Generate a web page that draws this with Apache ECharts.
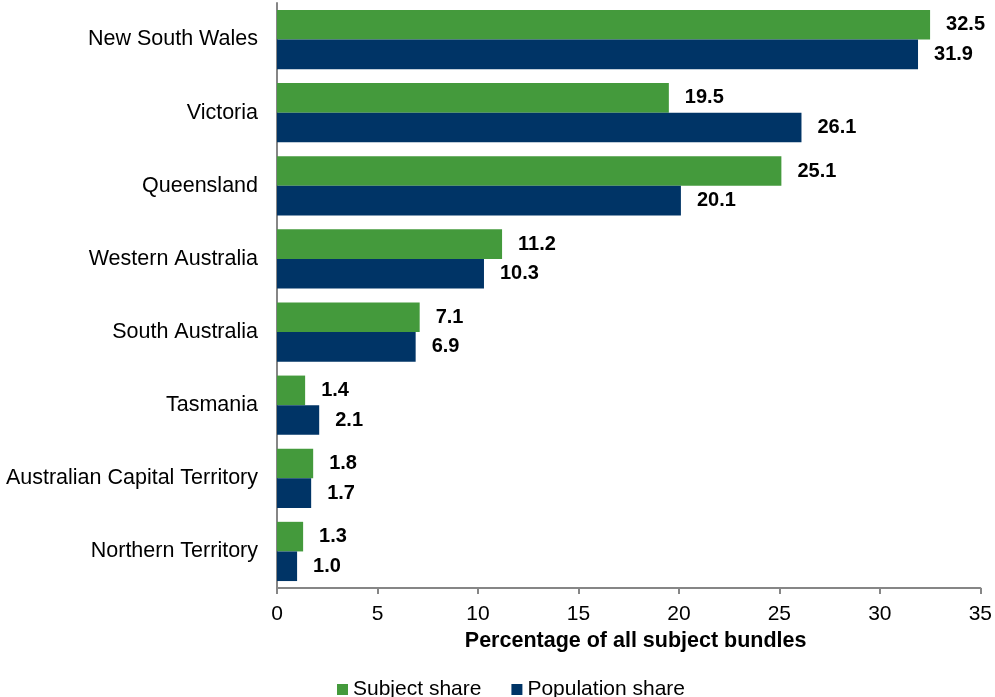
<!DOCTYPE html>
<html><head><meta charset="utf-8">
<script src="https://cdn.jsdelivr.net/npm/echarts@6/dist/echarts.min.js"></script>
<style>html,body{margin:0;padding:0;background:#fff}#c{width:995px;height:697px}</style>
</head><body><div id="c"></div>
<script>
const categories = ["New South Wales","Victoria","Queensland","Western Australia","South Australia","Tasmania","Australian Capital Territory","Northern Territory"];
const subjectShare = [32.5,19.5,25.1,11.2,7.1,1.4,1.8,1.3];
const populationShare = [31.9,26.1,20.1,10.3,6.9,2.1,1.7,1.0];
const seriesNames = ["Subject share","Population share"];
const xTicks = {min:0,max:35,interval:5};

const font = 'Liberation Sans, Arial, sans-serif';
const chart = echarts.init(document.getElementById('c'));
const lbl = {show:true,position:'right',distance:16,fontFamily:font,fontSize:20,fontWeight:'bold',color:'#000',formatter:p=>p.value.toFixed(1)};
chart.setOption({
  animation:false,
  grid:{left:277,right:12,top:3,bottom:109,containLabel:false},
  legend:{data:seriesNames,left:332,top:674,itemWidth:11,itemHeight:11,itemGap:30,icon:'rect',
    textStyle:{fontFamily:font,fontSize:21,color:'#000'}},
  xAxis:{type:'value',min:xTicks.min,max:xTicks.max,interval:xTicks.interval,
    name:'Percentage of all subject bundles',nameLocation:'middle',nameGap:42,
    nameTextStyle:{fontFamily:font,fontSize:21.5,fontWeight:'bold',color:'#000',padding:[0,0,0,14]},
    axisLine:{show:true,lineStyle:{color:'#868686',width:2}},
    axisTick:{show:true,length:6,lineStyle:{color:'#868686',width:2}},
    axisLabel:{fontFamily:font,fontSize:21,color:'#000',margin:16},
    splitLine:{show:false}},
  yAxis:{type:'category',data:categories,inverse:true,
    axisLine:{show:true,lineStyle:{color:'#868686',width:2}},
    axisTick:{show:false},
    axisLabel:{fontFamily:font,fontSize:21.5,color:'#000',margin:19}},
  series:[
    {name:seriesNames[0],type:'bar',data:subjectShare,itemStyle:{color:'#449a3c'},barGap:'0%',barCategoryGap:'19%',label:lbl},
    {name:seriesNames[1],type:'bar',data:populationShare,itemStyle:{color:'#003466'},barGap:'0%',barCategoryGap:'19%',label:lbl}
  ]
});
</script></body></html>
